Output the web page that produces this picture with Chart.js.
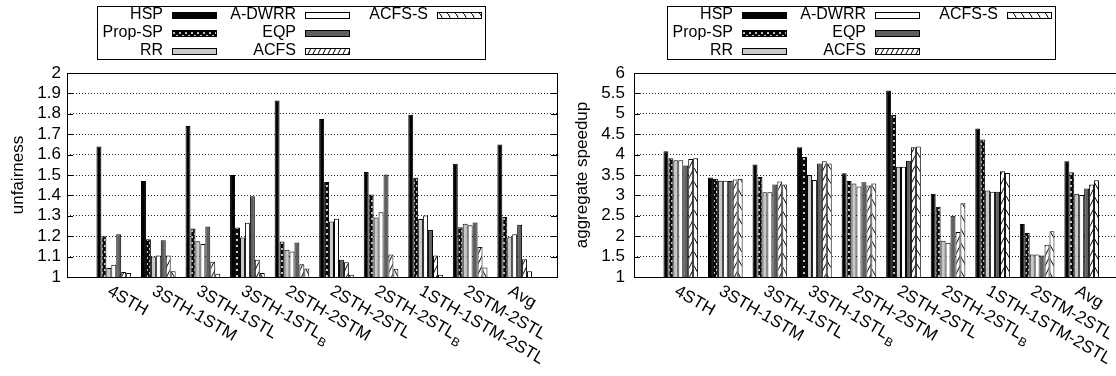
<!DOCTYPE html>
<html>
<head>
<meta charset="utf-8">
<title>unfairness and aggregate speedup</title>
<script src="https://cdn.jsdelivr.net/npm/chart.js@4.4.0/dist/chart.umd.min.js"></script>
<style>
  html, body { margin: 0; padding: 0; background: #fff; overflow: hidden; }
  #wrap { position: relative; width: 1116px; height: 376px; overflow: hidden; }
  .panel { position: absolute; top: 0; }
  #left { left: 0; }
  #right { left: 558px; }
</style>
</head>
<body>
<div id="wrap">
  <div class="panel" id="left"><canvas id="unfairChart" width="558" height="376"></canvas></div>
  <div class="panel" id="right"><canvas id="speedupChart" width="570" height="376"></canvas></div>
</div>
<script>
// workload mixes; "_B" marks a subscript B
const categories = ['4STH', '3STH-1STM', '3STH-1STL', '3STH-1STL_B', '2STH-2STM',
  '2STH-2STL', '2STH-2STL_B', '1STH-1STM-2STL', '2STM-2STL', 'Avg'];
const schemes = ['HSP', 'Prop-SP', 'RR', 'A-DWRR', 'EQP', 'ACFS', 'ACFS-S'];

// unfairness per scheme
const unfairHSP   = [1.64, 1.47, 1.74, 1.50, 1.865, 1.775, 1.515, 1.795, 1.555, 1.65];
const unfairProp  = [1.20, 1.185, 1.238, 1.243, 1.174, 1.466, 1.405, 1.486, 1.244, 1.294];
const unfairRR    = [1.044, 1.10, 1.175, 1.194, 1.134, 1.272, 1.292, 1.284, 1.261, 1.195];
const unfairADWRR = [1.06, 1.105, 1.162, 1.266, 1.125, 1.285, 1.317, 1.302, 1.254, 1.21];
const unfairEQP   = [1.21, 1.18, 1.248, 1.396, 1.169, 1.085, 1.502, 1.23, 1.267, 1.256];
const unfairACFS  = [1.024, 1.105, 1.075, 1.085, 1.062, 1.072, 1.11, 1.105, 1.147, 1.087];
const unfairACFSS = [1.02, 1.028, 1.016, 1.02, 1.042, 1.011, 1.041, 1.011, 1.046, 1.028];

// aggregate speedup per scheme
const speedHSP   = [4.08, 3.44, 3.76, 4.18, 3.54, 5.57, 3.04, 4.64, 2.30, 3.84];
const speedProp  = [3.91, 3.41, 3.45, 3.94, 3.35, 4.97, 2.72, 4.37, 2.08, 3.57];
const speedRR    = [3.86, 3.36, 3.08, 3.50, 3.29, 3.70, 1.89, 3.12, 1.55, 3.04];
const speedADWRR = [3.86, 3.36, 3.08, 3.38, 3.22, 3.70, 1.84, 3.09, 1.55, 3.01];
const speedEQP   = [3.73, 3.35, 3.27, 3.78, 3.32, 3.85, 2.50, 3.09, 1.53, 3.17];
const speedACFS  = [3.89, 3.39, 3.34, 3.84, 3.24, 4.18, 2.10, 3.59, 1.79, 3.27];
const speedACFSS = [3.91, 3.41, 3.27, 3.78, 3.29, 4.20, 2.81, 3.55, 2.12, 3.37];

const unfairTicks  = [1, 1.1, 1.2, 1.3, 1.4, 1.5, 1.6, 1.7, 1.8, 1.9, 2];
const speedupTicks = [1, 1.5, 2, 2.5, 3, 3.5, 4, 4.5, 5, 5.5, 6];

const FONT = '"Liberation Sans", Arial, Helvetica, sans-serif';
Chart.defaults.font.family = FONT;
Chart.defaults.font.size = 17;
Chart.defaults.color = '#000';

// fill patterns, built on the target context
function tile(w, h, draw) {
  const c = document.createElement('canvas');
  c.width = w; c.height = h;
  const g = c.getContext('2d');
  g.fillStyle = '#fff';
  g.fillRect(0, 0, w, h);
  g.strokeStyle = '#000';
  g.lineWidth = 1;
  draw(g, w, h);
  return c;
}
function line(g, x1, y1, x2, y2) {
  g.beginPath(); g.moveTo(x1, y1); g.lineTo(x2, y2); g.stroke();
}
function fills(ctx) {
  const cross = tile(6, 6, (g, w, h) => {
    g.lineWidth = 2.3;
    line(g, -1, -1, w + 1, h + 1);
    line(g, w + 1, -1, -1, h + 1);
  });
  const fwd = tile(5, 10, (g, w, h) => {
    line(g, -1, h + 2, w + 1, -2);
    line(g, -1 - w, h + 2, 1, -2);
    line(g, w - 1, h + 2, 2 * w + 1, -2);
  });
  const back = tile(8, 14, (g, w, h) => {
    line(g, -1, -2, w + 1, h + 2);
    line(g, -1 - w, -2, 1, h + 2);
    line(g, w - 1, -2, 2 * w + 1, h + 2);
  });
  return [
    '#000',
    ctx.createPattern(cross, 'repeat'),
    '#c8c8c8',
    '#fff',
    '#5f5f5f',
    ctx.createPattern(fwd, 'repeat'),
    ctx.createPattern(back, 'repeat')
  ];
}

// plot frame with inward ticks on both sides
const framePlugin = {
  id: 'frame',
  afterDatasetsDraw(chart) {
    const { ctx, chartArea: a, scales: { y } } = chart;
    ctx.save();
    ctx.strokeStyle = '#000';
    ctx.lineWidth = 1;
    ctx.beginPath();
    y.ticks.forEach(t => {
      const py = Math.round(y.getPixelForValue(t.value)) + 0.5;
      ctx.moveTo(a.left, py); ctx.lineTo(a.left + 6, py);
      ctx.moveTo(a.right, py); ctx.lineTo(a.right - 6, py);
    });
    ctx.stroke();
    ctx.strokeRect(Math.round(a.left) + 0.5, Math.round(a.top) + 0.5,
      Math.round(a.right - a.left), Math.round(a.bottom - a.top));
    ctx.restore();
  }
};

// rotated category labels under the plot
const xLabelPlugin = {
  id: 'xLabels',
  afterDraw(chart) {
    const { ctx, chartArea, scales: { x } } = chart;
    ctx.save();
    ctx.fillStyle = '#000';
    ctx.textAlign = 'left';
    ctx.textBaseline = 'middle';
    categories.forEach((name, i) => {
      const [main, sub] = name.split('_');
      ctx.save();
      ctx.translate(x.getPixelForValue(i) - 5, chartArea.bottom + 13);
      ctx.rotate(Math.PI / 6);
      ctx.font = '17px ' + FONT;
      ctx.fillText(main, 0, 0);
      if (sub) {
        const w = ctx.measureText(main).width;
        ctx.font = '12px ' + FONT;
        ctx.fillText(sub, w + 1, 6);
      }
      ctx.restore();
    });
    ctx.restore();
  }
};

// boxed key: three columns, label right-aligned before its swatch
const keyPlugin = {
  id: 'key',
  afterDraw(chart, args, opts) {
    const { ctx } = chart;
    const bx = opts.left, by = 6, bw = 388, bh = 53;
    ctx.save();
    ctx.strokeStyle = '#000';
    ctx.lineWidth = 1;
    ctx.strokeRect(bx + 0.5, by + 0.5, bw, bh);
    ctx.font = '16px ' + FONT;
    ctx.textAlign = 'right';
    ctx.textBaseline = 'middle';
    const cols = [66, 199, 331];
    chart.data.datasets.forEach((ds, i) => {
      const col = Math.floor(i / 3), row = i % 3;
      const tx = bx + cols[col];
      const cy = by + 9 + row * 18;
      ctx.fillStyle = '#000';
      ctx.fillText(ds.label, tx, cy);
      const sx = tx + 9;
      ctx.fillStyle = ds.backgroundColor;
      ctx.fillRect(sx, cy - 3, 44, 7);
      ctx.strokeRect(sx + 0.5, cy - 3 + 0.5, 44, 6);
    });
    ctx.restore();
  }
};

function makeChart(canvasId, series, ticks, title, opts) {
  const ctx = document.getElementById(canvasId).getContext('2d');
  const colors = fills(ctx);
  return new Chart(ctx, {
    type: 'bar',
    data: {
      datasets: schemes.map((name, s) => ({
        label: name,
        data: series[s].map((v, i) => ({ x: i, y: v })),
        backgroundColor: colors[s],
        borderColor: '#000',
        borderWidth: 1,
        barPercentage: 1,
        categoryPercentage: 7 / 9
      }))
    },
    options: {
      responsive: false,
      animation: false,
      layout: { padding: { left: 0, top: 73, right: opts.padRight, bottom: 99 } },
      plugins: {
        legend: { display: false },
        tooltip: { enabled: false },
        key: { left: opts.keyLeft }
      },
      scales: {
        x: {
          type: 'linear',
          display: false,
          offset: false,
          min: -1.05,
          max: 9.95,
          ticks: { stepSize: 1, includeBounds: false }
        },
        y: {
          min: ticks[0],
          max: ticks[ticks.length - 1],
          afterBuildTicks: scale => { scale.ticks = ticks.map(v => ({ value: v })); },
          afterFit: scale => { scale.width = opts.axisWidth; },
          ticks: {
            padding: opts.tickPad,
            autoSkip: false,
            font: { size: 17 },
            callback: v => String(v)
          },
          grid: { color: '#222', lineWidth: 1, drawTicks: false },
          border: { display: false, dash: [1, 2] },
          title: {
            display: true,
            text: title,
            font: { size: 17 },
            padding: { top: opts.titlePad, bottom: 0 }
          }
        }
      }
    },
    plugins: [framePlugin, xLabelPlugin, keyPlugin]
  });
}

makeChart('unfairChart',
  [unfairHSP, unfairProp, unfairRR, unfairADWRR, unfairEQP, unfairACFS, unfairACFSS],
  unfairTicks, 'unfairness',
  { axisWidth: 67, tickPad: 6, titlePad: 8, padRight: 1, keyLeft: 97 });

makeChart('speedupChart',
  [speedHSP, speedProp, speedRR, speedADWRR, speedEQP, speedACFS, speedACFSS],
  speedupTicks, 'aggregate speedup',
  { axisWidth: 76, tickPad: 9, titlePad: 14, padRight: 4, keyLeft: 109 });
</script>
</body>
</html>
